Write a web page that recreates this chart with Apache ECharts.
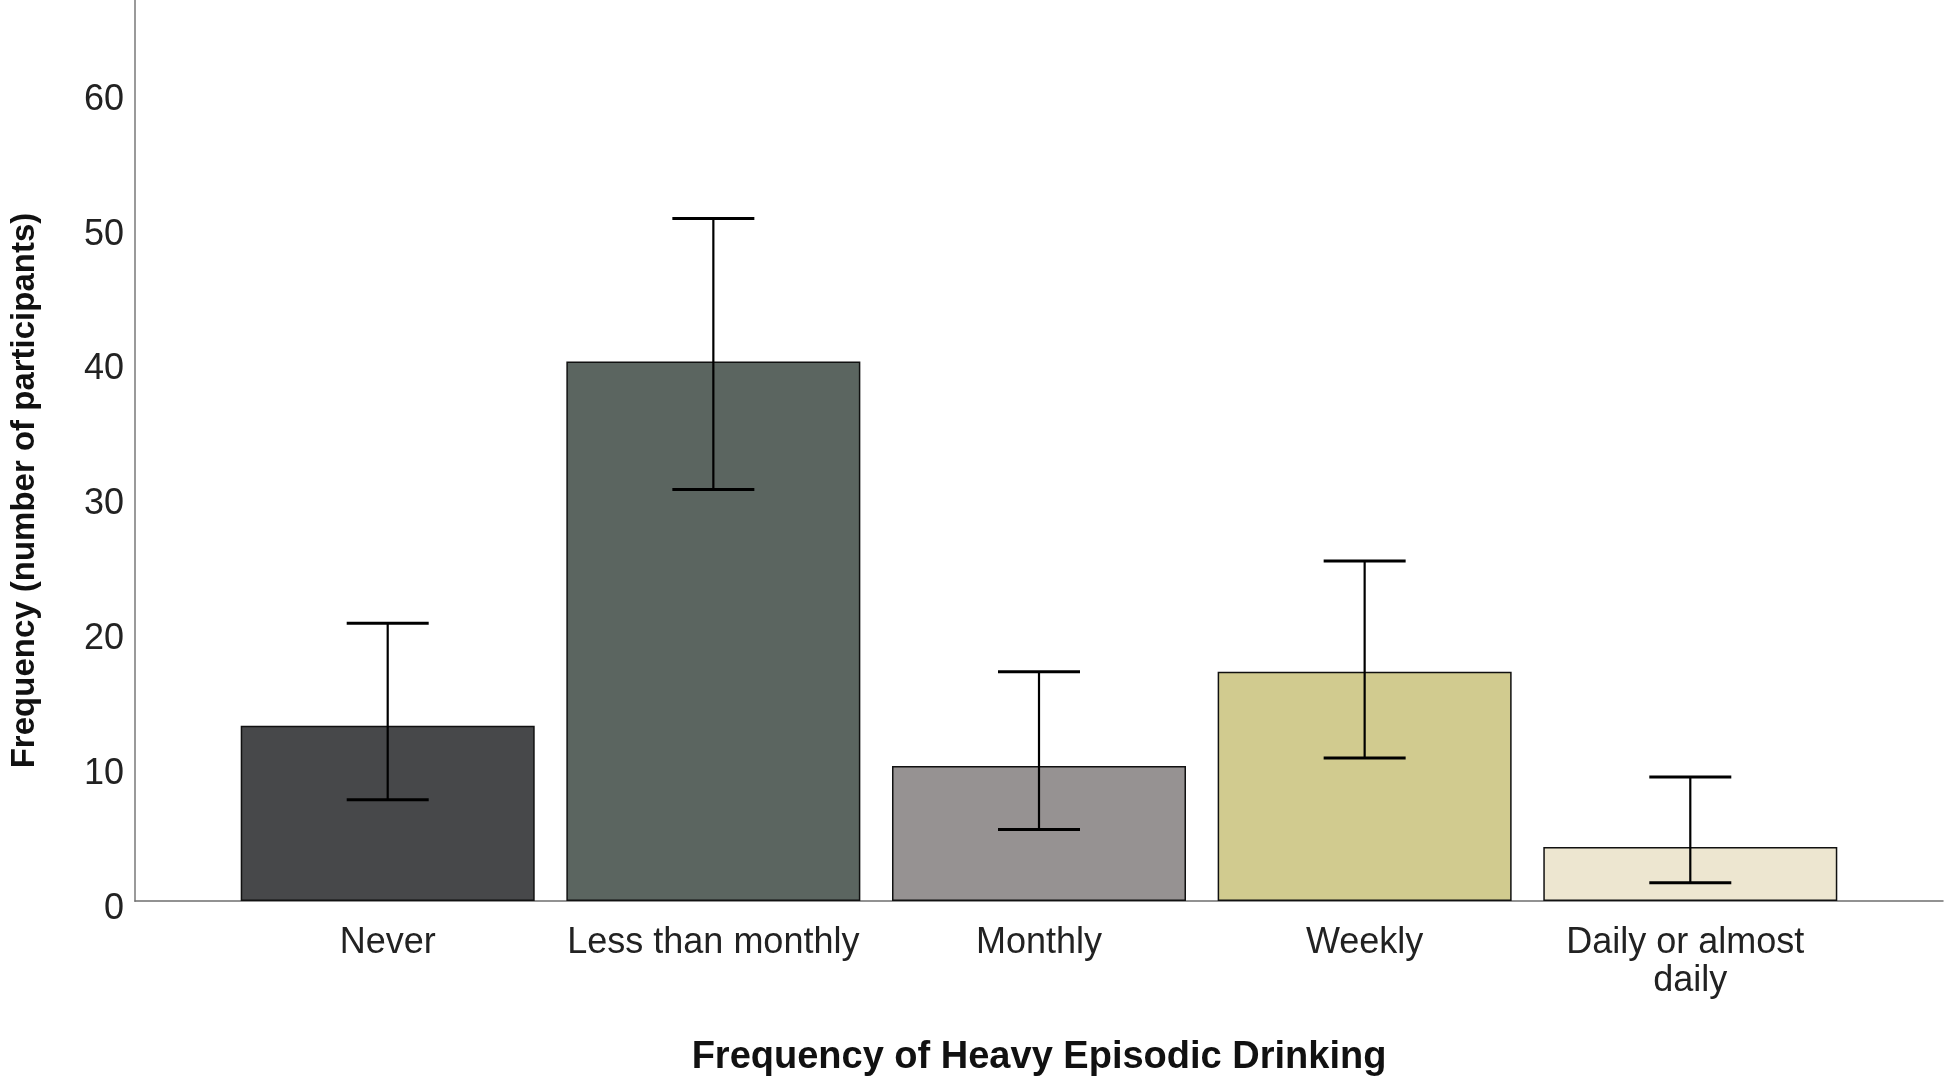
<!DOCTYPE html>
<html>
<head>
<meta charset="utf-8">
<script src="https://cdn.jsdelivr.net/npm/echarts@6/dist/echarts.min.js"></script>
<style>
html,body{margin:0;padding:0;background:#fff;}
#chart{width:1946px;height:1082px;}
</style>
</head>
<body>
<div id="chart"></div>
<script>
const categories = ['Never', 'Less than monthly', 'Monthly', 'Weekly', 'Daily or almost daily'];
const counts = [13, 40, 10, 17, 4];
const ciLow = [7.5, 30.5, 5.3, 10.6, 1.35];
const ciHigh = [20.6, 50.6, 17.0, 25.2, 9.2];
const barColors = ['#47484a', '#5b6560', '#969292', '#d1cb8f', '#ede6d0'];
const yTicks = [0, 10, 20, 30, 40, 50, 60];

const chart = echarts.init(document.getElementById('chart'), null, {renderer: 'canvas'});
const font = '"Liberation Sans", Arial, sans-serif';

chart.setOption({
  animation: false,
  backgroundColor: '#ffffff',
  grid: {left: 123, right: 3, top: 0, bottom: 174, containLabel: false},
  xAxis: {
    type: 'value',
    min: -0.776,
    max: 4.776,
    splitLine: {show: false},
    axisTick: {show: false},
    axisLine: {show: true, onZero: false, lineStyle: {color: '#6f6f6f', width: 1.5}},
    axisLabel: {
      customValues: categories.map((c, i) => i),
      formatter: v => categories[Math.round(v)] || '',
      fontFamily: font,
      fontSize: 36,
      color: '#222',
      margin: 23,
      width: 305,
      overflow: 'break',
      lineHeight: 38
    },
    name: 'Frequency of Heavy Episodic Drinking',
    nameLocation: 'middle',
    nameGap: 138,
    nameTextStyle: {fontFamily: font, fontSize: 38, fontWeight: 'bold', color: '#111'}
  },
  yAxis: {
    type: 'value',
    min: 0,
    max: 66.8,
    interval: 10,
    splitLine: {show: false},
    axisTick: {show: false},
    axisLine: {show: true, onZero: false, lineStyle: {color: '#9a9a9a', width: 2}},
    axisLabel: {
      customValues: yTicks,
      formatter: v => String(v),
      fontFamily: font,
      fontSize: 36,
      color: '#222',
      margin: 11,
      verticalAlign: 'top',
      lineHeight: 16
    },
    name: 'Frequency (number of participants)',
    nameLocation: 'middle',
    nameRotate: 90,
    nameGap: 94,
    nameTextStyle: {fontFamily: font, fontSize: 33, fontWeight: 'bold', color: '#111', padding: [0, 80, 0, 0]}
  },
  series: [
    {
      type: 'bar',
      barWidth: 294,
      data: counts.map((v, i) => ({value: [i, v], itemStyle: {color: barColors[i]}})),
      itemStyle: {borderColor: '#111', borderWidth: 1.5},
      z: 2
    },
    {
      type: 'custom',
      z: 3,
      data: ciLow.map((l, i) => [i, l, ciHigh[i]]),
      encode: {x: 0, y: [1, 2]},
      renderItem: function (params, api) {
        const x = api.value(0);
        const pHi = api.coord([x, api.value(2)]);
        const pLo = api.coord([x, api.value(1)]);
        const half = 41;
        const st = {stroke: '#000', lineWidth: 2.2};
        return {
          type: 'group',
          children: [
            {type: 'line', shape: {x1: pHi[0], y1: pHi[1], x2: pLo[0], y2: pLo[1]}, style: st},
            {type: 'line', shape: {x1: pHi[0] - half, y1: pHi[1], x2: pHi[0] + half, y2: pHi[1]}, style: {stroke: '#000', lineWidth: 3}},
            {type: 'line', shape: {x1: pLo[0] - half, y1: pLo[1], x2: pLo[0] + half, y2: pLo[1]}, style: {stroke: '#000', lineWidth: 3}}
          ]
        };
      }
    }
  ]
});
</script>
</body>
</html>
